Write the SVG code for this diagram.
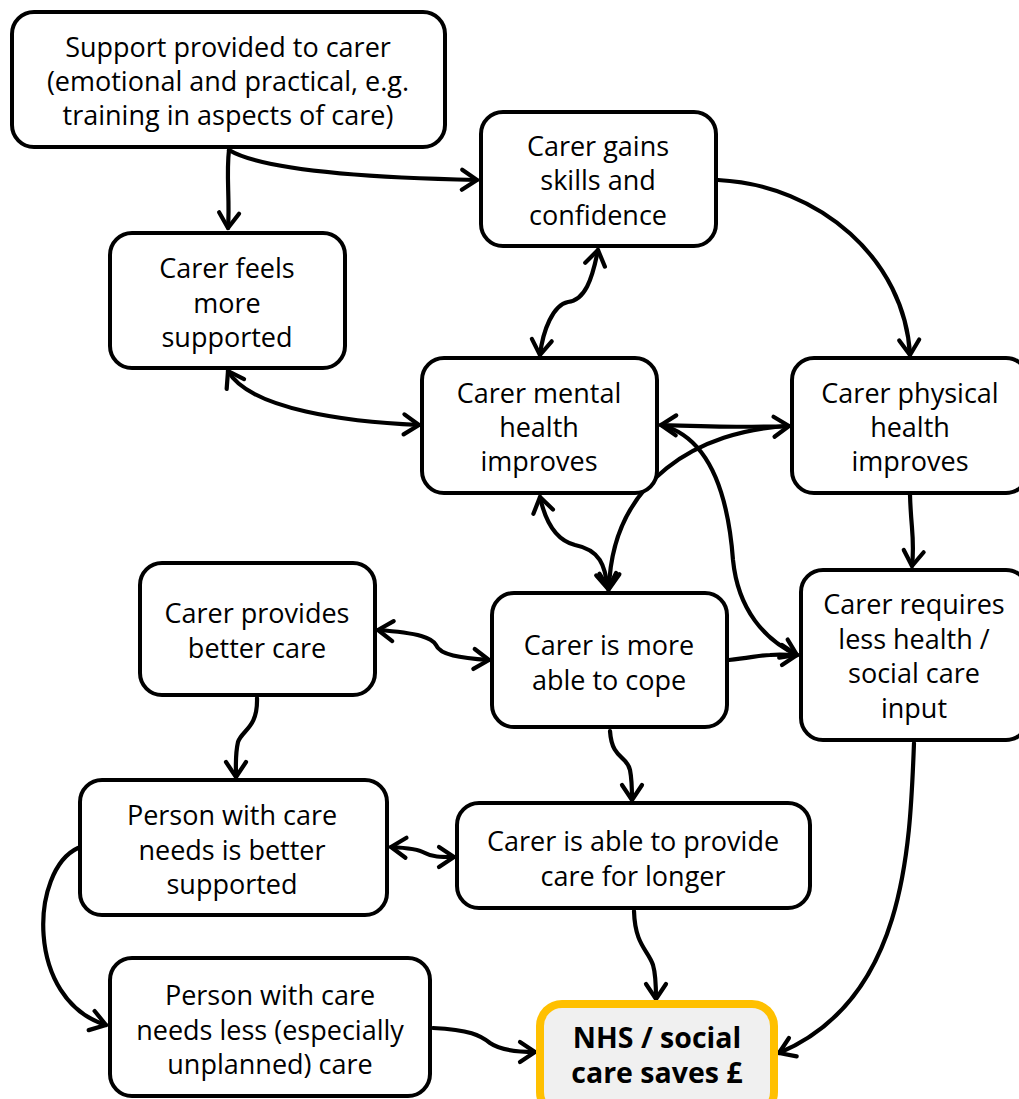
<svg xmlns="http://www.w3.org/2000/svg" width="1019" height="1099" viewBox="0 0 1019 1099">
<style>
.box{fill:#fff;stroke:#000;stroke-width:4}
.nhs{fill:#f0f0f0;stroke:#ffc000;stroke-width:8}
text{font-family:"Open Sans","Noto Sans","Liberation Sans",sans-serif;font-size:27px;fill:#000;text-anchor:middle;dominant-baseline:central}
.b{font-weight:bold;font-size:28.5px}
.c{fill:none;stroke:#000;stroke-width:4.2;stroke-linecap:round}
</style>
<defs>
<marker id="ah" markerUnits="userSpaceOnUse" markerWidth="30" markerHeight="30" viewBox="-20 -15 30 30" refX="0" refY="0" orient="auto-start-reverse">
<path d="M-15,-10 L0,0 L-15,10" fill="none" stroke="#000" stroke-width="4.2" stroke-linecap="round" stroke-linejoin="round"/>
</marker>
</defs>
<g id="connectors">
<path class="c" d="M229,150 C226,175 230,200 228,228" marker-end="url(#ah)"/>
<path class="c" d="M229,150 C265,172 380,178 477,180" marker-end="url(#ah)"/>
<path class="c" d="M598,250 C592,280 585,300 568,302 C553,305 543,330 540,355" marker-start="url(#ah)" marker-end="url(#ah)"/>
<path class="c" d="M228,371 C250,410 350,422 419,425" marker-start="url(#ah)" marker-end="url(#ah)"/>
<path class="c" d="M718,180 C820,185 905,260 910,355" marker-end="url(#ah)"/>
<path class="c" d="M661,425 C700,426 750,428 789,426" marker-start="url(#ah)" marker-end="url(#ah)"/>
<path class="c" d="M789,426 C700,430 612,480 609,589" marker-end="url(#ah)"/>
<path class="c" d="M661,425 C720,440 730,520 733,560 C738,610 765,640 797,655" marker-end="url(#ah)"/>
<path class="c" d="M540,497 C545,520 555,540 575,545 C600,550 605,565 608,589" marker-start="url(#ah)" marker-end="url(#ah)"/>
<path class="c" d="M378,630 C420,633 432,638 436,645 C440,655 460,658 489,660" marker-start="url(#ah)" marker-end="url(#ah)"/>
<path class="c" d="M729,660 C750,658 760,655 770,655 C780,654 788,655 797,655" marker-end="url(#ah)"/>
<path class="c" d="M910,495 C911,530 915,540 912,566" marker-end="url(#ah)"/>
<path class="c" d="M257,698 C258,728 242,730 238,742 C235,755 236,765 236,777" marker-end="url(#ah)"/>
<path class="c" d="M610,731 C612,760 627,755 630,770 C632,780 632,790 632,800" marker-end="url(#ah)"/>
<path class="c" d="M391,847 C410,848 420,850 425,853 C432,857 440,857 454,857" marker-start="url(#ah)" marker-end="url(#ah)"/>
<path class="c" d="M78,848 C30,870 25,1000 106,1025" marker-end="url(#ah)"/>
<path class="c" d="M634,911 C635,945 648,950 653,965 C656,975 656,985 656,999" marker-end="url(#ah)"/>
<path class="c" d="M433,1028 C470,1030 480,1035 490,1043 C500,1050 520,1052 535,1052" marker-end="url(#ah)"/>
<path class="c" d="M914,743 C910,850 905,1000 779,1053" marker-end="url(#ah)"/>
</g>
<g id="n1"><rect class="box" x="12" y="12" width="433" height="135" rx="22"/>
<text x="228" y="46">Support provided to carer</text><text x="228" y="80">(emotional and practical, e.g.</text><text x="228" y="114">training in aspects of care)</text></g>
<g id="n2"><rect class="box" x="481" y="112" width="235" height="134" rx="22"/>
<text x="598" y="145">Carer gains</text><text x="598" y="179">skills and</text><text x="598" y="214">confidence</text></g>
<g id="n3"><rect class="box" x="110" y="233" width="235" height="135" rx="22"/>
<text x="227" y="267">Carer feels</text><text x="227" y="302">more</text><text x="227" y="336">supported</text></g>
<g id="n4"><rect class="box" x="422" y="358" width="235" height="135" rx="22"/>
<text x="539" y="392">Carer mental</text><text x="539" y="426">health</text><text x="539" y="460">improves</text></g>
<g id="n5"><rect class="box" x="792" y="358" width="236" height="135" rx="22"/>
<text x="910" y="392">Carer physical</text><text x="910" y="426">health</text><text x="910" y="460">improves</text></g>
<g id="n6"><rect class="box" x="140" y="563" width="235" height="132" rx="22"/>
<text x="257" y="612">Carer provides</text><text x="257" y="647">better care</text></g>
<g id="n7"><rect class="box" x="492" y="593" width="235" height="134" rx="22"/>
<text x="609" y="644">Carer is more</text><text x="609" y="679">able to cope</text></g>
<g id="n8"><rect class="box" x="801" y="570" width="227" height="170" rx="22"/>
<text x="914" y="603">Carer requires</text><text x="914" y="638">less health /</text><text x="914" y="672">social care</text><text x="914" y="707">input</text></g>
<g id="n9"><rect class="box" x="80" y="780" width="307" height="135" rx="22"/>
<text x="232" y="814">Person with care</text><text x="232" y="849">needs is better</text><text x="232" y="883">supported</text></g>
<g id="n10"><rect class="box" x="457" y="803" width="353" height="105" rx="22"/>
<text x="633" y="840">Carer is able to provide</text><text x="633" y="875">care for longer</text></g>
<g id="n11"><rect class="box" x="110" y="958" width="320" height="138" rx="22"/>
<text x="270" y="994">Person with care</text><text x="270" y="1029">needs less (especially</text><text x="270" y="1063">unplanned) care</text></g>
<g id="n12"><rect class="nhs" x="540" y="1004" width="234" height="110" rx="22"/>
<text class="b" x="657" y="1037">NHS / social</text><text class="b" x="657" y="1072">care saves £</text></g>
</svg>
